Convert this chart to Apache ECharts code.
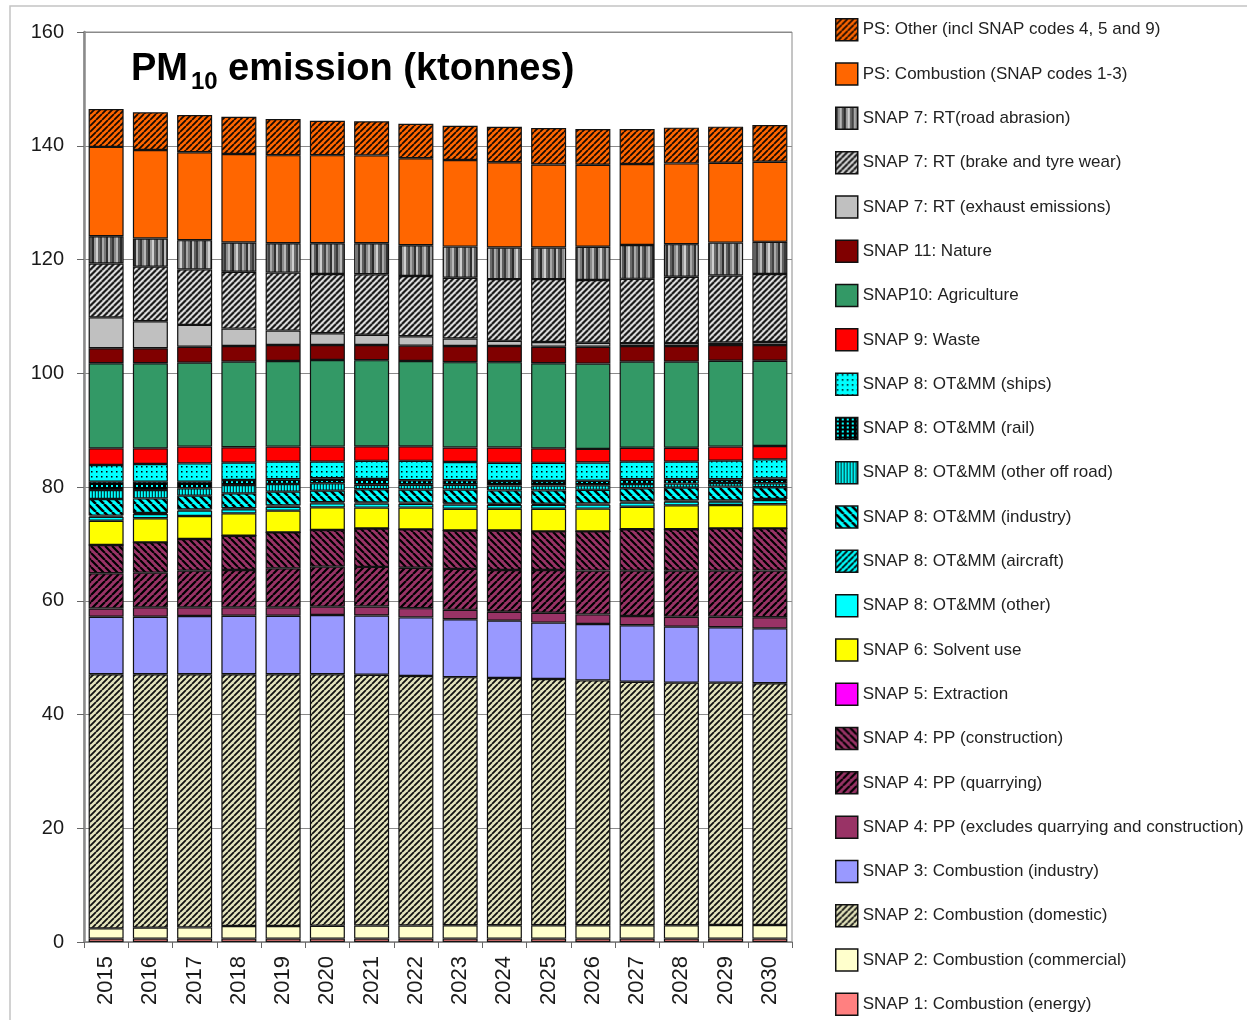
<!DOCTYPE html>
<html>
<head>
<meta charset="utf-8">
<title>PM10 emission (ktonnes)</title>
<script src="https://cdn.jsdelivr.net/npm/echarts@6/dist/echarts.min.js"></script>
<style>
html, body { margin: 0; padding: 0; background: #fff; }
#main { width: 1247px; height: 1020px; }
</style>
</head>
<body>
<div id="main"></div>
<script>
var chartDom = document.getElementById('main');
var myChart = echarts.init(chartDom);

var FONT = 'Liberation Sans, Arial, sans-serif';

// years on the x axis
var years = ['2015', '2016', '2017', '2018', '2019', '2020', '2021', '2022',
  '2023', '2024', '2025', '2026', '2027', '2028', '2029', '2030'];

// ktonnes (bottom of stack first)
var snap1Energy = [0.6, 0.6, 0.6, 0.6, 0.6, 0.6, 0.6, 0.6, 0.6, 0.6, 0.6, 0.6, 0.6, 0.6, 0.6, 0.6];
var snap2Commercial = [1.8, 1.92, 1.97, 2.21, 2.21, 2.27, 2.3, 2.3, 2.35, 2.35, 2.35, 2.35, 2.35, 2.35, 2.4, 2.4];
var snap2Domestic = [44.67, 44.55, 44.5, 44.26, 44.26, 44.2, 44.1, 43.87, 43.62, 43.48, 43.29, 43.05, 42.82, 42.65, 42.6, 42.5];
var snap3Industry = [10.13, 10.13, 10.24, 10.3, 10.3, 10.42, 10.4, 10.3, 10.17, 10.07, 9.92, 9.9, 9.91, 9.85, 9.73, 9.65];
var snap4Other = [1.45, 1.64, 1.53, 1.47, 1.47, 1.47, 1.6, 1.63, 1.66, 1.57, 1.72, 1.7, 1.64, 1.75, 1.87, 1.95];
var snap4Quarrying = [6.18, 6.1, 6.45, 6.57, 6.86, 7.04, 6.95, 7.1, 7.2, 7.33, 7.52, 7.7, 7.97, 8.09, 8.09, 8.2];
var snap4Construction = [4.97, 5.33, 5.56, 6.03, 6.33, 6.44, 6.75, 6.75, 6.75, 6.95, 6.8, 6.9, 7.27, 7.27, 7.44, 7.43];
var snap5Extraction = [0, 0, 0, 0, 0, 0, 0, 0, 0, 0, 0, 0, 0, 0, 0, 0];
var snap6Solvent = [4.27, 4.23, 4.05, 3.93, 3.81, 3.98, 3.68, 3.83, 3.83, 3.83, 3.98, 4.0, 3.98, 4.21, 4.1, 4.23];
var snap8Other = [0.7, 0.75, 0.94, 0.7, 0.7, 0.71, 0.72, 0.68, 0.74, 0.67, 0.67, 0.7, 0.71, 0.66, 0.6, 0.74];
var snap8Aircraft = [0.2, 0.2, 0.2, 0.2, 0.2, 0.2, 0.2, 0.2, 0.2, 0.2, 0.2, 0.2, 0.2, 0.2, 0.2, 0.2];
var snap8Industry = [2.91, 2.55, 2.44, 2.61, 2.44, 2.03, 2.3, 2.29, 2.43, 2.35, 2.35, 2.4, 2.32, 2.26, 2.44, 2.05];
var snap8OffRoad = [1.59, 1.47, 1.29, 1.47, 1.35, 1.29, 0.8, 0.85, 0.85, 0.85, 0.85, 0.8, 0.76, 0.71, 0.63, 0.7];
var snap8Rail = [1.47, 1.47, 1.17, 0.88, 0.82, 0.88, 1.0, 0.8, 0.8, 0.8, 0.8, 0.8, 0.82, 0.75, 0.65, 0.85];
var snap8Ships = [2.92, 3.1, 3.21, 3.05, 3.11, 2.93, 3.2, 3.4, 3.2, 3.2, 3.2, 3.2, 3.11, 3.11, 3.28, 3.36];
var snap9Waste = [2.94, 2.76, 2.95, 2.7, 2.64, 2.64, 2.55, 2.55, 2.55, 2.7, 2.55, 2.4, 2.44, 2.44, 2.47, 2.34];
var snap10Agri = [14.95, 14.95, 14.76, 15.06, 15.05, 15.23, 15.15, 15.0, 15.0, 15.0, 14.95, 15.0, 15.14, 15.14, 15.1, 15.0];
var snap11Nature = [2.65, 2.65, 2.81, 2.76, 2.81, 2.63, 2.67, 2.7, 2.85, 2.85, 2.9, 2.95, 2.76, 2.76, 2.76, 2.76];
var snap7Exhaust = [5.43, 4.73, 3.83, 3.05, 2.54, 2.08, 1.8, 1.65, 1.3, 0.9, 0.85, 0.7, 0.5, 0.5, 0.44, 0.54];
var snap7Brake = [9.47, 9.61, 9.76, 10.0, 10.2, 10.41, 10.63, 10.6, 10.7, 10.85, 11.05, 11.05, 11.3, 11.68, 11.8, 11.95];
var snap7Road = [4.8, 4.96, 5.14, 5.15, 5.15, 5.4, 5.45, 5.4, 5.47, 5.55, 5.55, 5.85, 5.95, 5.72, 5.77, 5.65];
var psCombustion = [15.7, 15.55, 15.45, 15.55, 15.5, 15.5, 15.45, 15.3, 15.23, 15.0, 14.6, 14.4, 14.25, 14.2, 14.03, 14.1];
var psOther = [6.66, 6.63, 6.55, 6.55, 6.35, 6.05, 6.0, 6.08, 6.0, 6.23, 6.4, 6.3, 6.15, 6.28, 6.36, 6.45];

// --- fill patterns (excel-like hatches) ---
function diag(bg, size, dir, lines) {
  var c = document.createElement('canvas');
  c.width = size; c.height = size;
  var ctx = c.getContext('2d');
  ctx.fillStyle = bg;
  ctx.fillRect(0, 0, size, size);
  lines.forEach(function (l) {
    ctx.strokeStyle = l[0];
    ctx.lineWidth = l[1];
    ctx.beginPath();
    for (var k = -2; k <= 2; k++) {
      var o = k * size + (l[2] || 0);
      if (dir > 0) { ctx.moveTo(o, size); ctx.lineTo(o + size, 0); }
      else { ctx.moveTo(o, 0); ctx.lineTo(o + size, size); }
    }
    ctx.stroke();
  });
  return { image: c, repeat: 'repeat' };
}

function vstripes(cols, w) {
  var c = document.createElement('canvas');
  c.width = cols.length * w; c.height = 2;
  var ctx = c.getContext('2d');
  cols.forEach(function (col, i) {
    ctx.fillStyle = col;
    ctx.fillRect(i * w, 0, w, 2);
  });
  return { image: c, repeat: 'repeat' };
}

function dots(bg, fg, size, r, dx, dy) {
  var c = document.createElement('canvas');
  c.width = dx || size; c.height = dy || size;
  var ctx = c.getContext('2d');
  ctx.fillStyle = bg;
  ctx.fillRect(0, 0, c.width, c.height);
  ctx.fillStyle = fg;
  ctx.fillRect(1, 1, r, r);
  return { image: c, repeat: 'repeat' };
}

var seriesDefs = [
  ['SNAP 1: Combustion (energy)', snap1Energy, '#FF8080'],
  ['SNAP 2: Combustion (commercial)', snap2Commercial, '#FFFFCC'],
  ['SNAP 2: Combustion (domestic)', snap2Domestic, diag('#E4E4BC', 6, 1, [['#111', 1.8]])],
  ['SNAP 3: Combustion (industry)', snap3Industry, '#9999FF'],
  ['SNAP 4: PP (excludes quarrying and construction)', snap4Other, '#993366'],
  ['SNAP 4: PP (quarrying)', snap4Quarrying, diag('#993366', 7, 1, [['#000', 2.2]])],
  ['SNAP 4: PP (construction)', snap4Construction, diag('#993366', 7, -1, [['#000', 2.2]])],
  ['SNAP 5: Extraction', snap5Extraction, '#FF00FF'],
  ['SNAP 6: Solvent use', snap6Solvent, '#FFFF00'],
  ['SNAP 8: OT&MM (other)', snap8Other, '#00FFFF'],
  ['SNAP 8: OT&MM (aircraft)', snap8Aircraft, diag('#00FFFF', 6, 1, [['#000', 1.8]])],
  ['SNAP 8: OT&MM (industry)', snap8Industry, diag('#00FFFF', 8, -1, [['#000', 2.6]])],
  ['SNAP 8: OT&MM (other off road)', snap8OffRoad, vstripes(['#00FFFF', '#00CCCC', '#004444'], 1)],
  ['SNAP 8: OT&MM (rail)', snap8Rail, dots('#000000', '#00FFFF', 5, 2, 5, 4)],
  ['SNAP 8: OT&MM (ships)', snap8Ships, dots('#00FFFF', '#000000', 5, 1.5)],
  ['SNAP 9: Waste', snap9Waste, '#FF0000'],
  ['SNAP10: Agriculture', snap10Agri, '#339966'],
  ['SNAP 11: Nature', snap11Nature, '#800000'],
  ['SNAP 7: RT (exhaust emissions)', snap7Exhaust, '#C0C0C0'],
  ['SNAP 7: RT (brake and tyre wear)', snap7Brake, diag('#9a9a9a', 6, 1, [['#111', 1.6], ['#ececec', 1.2, 3]])],
  ['SNAP 7: RT(road abrasion)', snap7Road, vstripes(['#3a3a3a', '#8a8a8a', '#b8b8b8', '#5a5a5a', '#2a2a2a', '#9a9a9a',
    '#cfcfcf', '#6a6a6a', '#444', '#a8a8a8', '#777', '#303030', '#bcbcbc', '#5f5f5f'], 2)],
  ['PS: Combustion (SNAP codes 1-3)', psCombustion, '#FF6600'],
  ['PS: Other (incl SNAP codes 4, 5 and 9)', psOther, diag('#FF6600', 6, 1, [['#1a0a00', 1.8]])]
];

var series = seriesDefs.map(function (d) {
  return {
    name: d[0],
    type: 'bar',
    stack: 'total',
    barWidth: 35,
    data: d[1],
    itemStyle: { color: d[2], borderColor: '#111', borderWidth: 1.2 },
    emphasis: { disabled: true }
  };
});

var legendNames = seriesDefs.map(function (d) { return d[0]; }).reverse();

var option = {
  backgroundColor: '#fff',
  animation: false,
  textStyle: { fontFamily: FONT },
  title: [
    { text: 'PM', left: 131, top: 51, padding: 0,
      textStyle: { fontFamily: FONT, fontSize: 38, fontWeight: 'bold', color: '#000' } },
    { text: '10', left: 191, top: 70, padding: 0,
      textStyle: { fontFamily: FONT, fontSize: 24, fontWeight: 'bold', color: '#000' } },
    { text: 'emission (ktonnes)', left: 228, top: 51, padding: 0,
      textStyle: { fontFamily: FONT, fontSize: 38, fontWeight: 'bold', color: '#000' } }
  ],
  graphic: [{
    type: 'rect', silent: true, z: -1,
    shape: { x: 10, y: 6, width: 1300, height: 1100 },
    style: { fill: 'none', stroke: '#c4c4c4', lineWidth: 1.5 }
  }],
  legend: {
    data: legendNames,
    orient: 'vertical',
    left: 835,
    top: 18,
    padding: 0,
    itemWidth: 22,
    itemHeight: 22,
    itemGap: 20.8,
    icon: 'rect',
    selectedMode: false,
    itemStyle: { borderColor: '#111', borderWidth: 1.5 },
    textStyle: { fontFamily: FONT, fontSize: 17, color: '#222' }
  },
  grid: {
    left: 84, right: 455, top: 32, bottom: 78,
    show: true, borderColor: '#8a8a8a', borderWidth: 1
  },
  xAxis: {
    type: 'category',
    data: years,
    axisLine: { lineStyle: { color: '#8a8a8a', width: 1.5 } },
    axisTick: { show: true, length: 6, lineStyle: { color: '#666' } },
    axisLabel: { rotate: 90, fontSize: 22, color: '#1a1a1a', margin: 14, fontFamily: FONT }
  },
  yAxis: {
    type: 'value',
    min: 0, max: 160, interval: 20,
    axisLine: { show: true, lineStyle: { color: '#8a8a8a', width: 2.5 } },
    axisTick: { show: true, length: 7, lineStyle: { color: '#666' } },
    axisLabel: { fontSize: 20, color: '#1a1a1a', margin: 20, fontFamily: FONT },
    splitLine: { lineStyle: { color: '#8a8a8a', width: 1 } }
  },
  series: series
};

option && myChart.setOption(option);
</script>
</body>
</html>
